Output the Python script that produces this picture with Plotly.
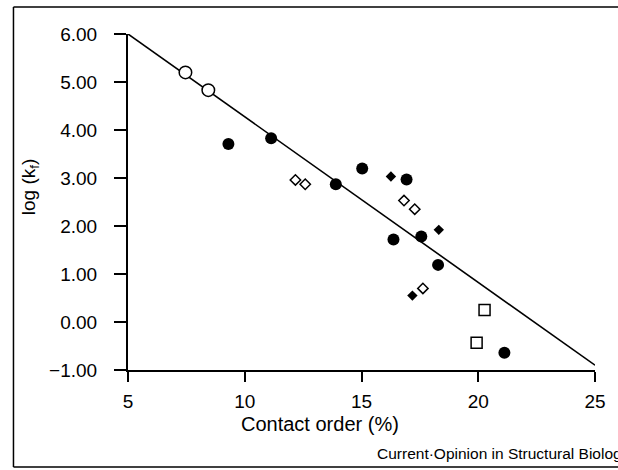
import plotly.graph_objects as go

# Data
open_circle_x = [7.46, 8.44]
open_circle_y = [5.20, 4.83]

filled_circle_x = [9.30, 11.13, 13.90, 15.03, 16.93, 16.37, 17.56, 18.28, 21.12]
filled_circle_y = [3.71, 3.83, 2.87, 3.20, 2.97, 1.72, 1.78, 1.19, -0.64]

open_diamond_x = [12.17, 12.59, 16.82, 17.28, 17.63]
open_diamond_y = [2.96, 2.87, 2.53, 2.35, 0.70]

filled_diamond_x = [16.26, 18.31, 17.18]
filled_diamond_y = [3.03, 1.92, 0.55]

open_square_x = [20.27, 19.93]
open_square_y = [0.25, -0.43]

fit_x = [5, 25]
fit_y = [6.0, -0.9]

x_ticks = [5, 10, 15, 20, 25]
y_ticks = [-1, 0, 1, 2, 3, 4, 5, 6]

FONT = "Liberation Sans, Arial, Helvetica, sans-serif"

fig = go.Figure()
fig.add_trace(go.Scatter(x=fit_x, y=fit_y, mode="lines",
                         line=dict(color="black", width=1.6), hoverinfo="skip"))
fig.add_trace(go.Scatter(x=open_circle_x, y=open_circle_y, mode="markers",
                         marker=dict(symbol="circle", size=12.5, color="white",
                                     line=dict(color="black", width=1.5))))
fig.add_trace(go.Scatter(x=filled_circle_x, y=filled_circle_y, mode="markers",
                         marker=dict(symbol="circle", size=12, color="black",
                                     line=dict(width=0))))
fig.add_trace(go.Scatter(x=open_diamond_x, y=open_diamond_y, mode="markers",
                         marker=dict(symbol="diamond", size=8, color="white",
                                     line=dict(color="black", width=1.5))))
fig.add_trace(go.Scatter(x=filled_diamond_x, y=filled_diamond_y, mode="markers",
                         marker=dict(symbol="diamond", size=8, color="black",
                                     line=dict(width=0))))
fig.add_trace(go.Scatter(x=open_square_x, y=open_square_y, mode="markers",
                         marker=dict(symbol="square", size=11, color="white",
                                     line=dict(color="black", width=1.5))))

L, R, T, B = 128, 17, 34, 100
W, H = 618, 470
pw, ph = W - L - R, H - T - B

def px(xp):
    return (xp - L) / pw

def py(yp):
    return 1 - (yp - T) / ph

frame = dict(color="black", width=1.5)

fig.update_layout(
    width=W, height=H,
    margin=dict(l=L, r=R, t=T, b=B),
    paper_bgcolor="white", plot_bgcolor="white",
    showlegend=False,
    font=dict(family=FONT, color="black", size=19),
    xaxis=dict(range=[5, 25], tickvals=x_ticks, showline=True, linecolor="black",
               linewidth=2, ticks="outside", ticklen=10, tickwidth=2, tickcolor="black",
               showgrid=False, zeroline=False, ticklabelstandoff=3,
               tickfont=dict(size=19, family=FONT)),
    yaxis=dict(range=[-1, 6], tickvals=y_ticks, tickformat=".2f", showline=True,
               linecolor="black", linewidth=2, ticks="outside", ticklen=12, tickwidth=2,
               tickcolor="black", showgrid=False, zeroline=False, ticklabelstandoff=13,
               tickfont=dict(size=19, family=FONT)),
    annotations=[
        dict(text="Contact order (%)", xref="paper", yref="paper",
             x=px(322), y=py(424), xanchor="center", yanchor="middle",
             showarrow=False, font=dict(size=20, family=FONT)),
        dict(text="log (k<sub>f</sub>)", xref="paper", yref="paper",
             x=px(29), y=py(187), xanchor="center", yanchor="middle",
             textangle=-90, showarrow=False, font=dict(size=19, family=FONT)),
        dict(text="Current\u00b7Opinion in Structural Biology", xref="paper", yref="paper",
             x=px(378), y=py(453), xanchor="left", yanchor="middle",
             showarrow=False, font=dict(size=15.5, family=FONT)),
    ],
    shapes=[
        dict(type="line", xref="paper", yref="paper",
             x0=px(12), x1=px(660), y0=py(7), y1=py(7), line=frame, layer="below"),
        dict(type="line", xref="paper", yref="paper",
             x0=px(12), x1=px(12), y0=py(7), y1=py(467), line=frame, layer="below"),
        dict(type="line", xref="paper", yref="paper",
             x0=px(12), x1=px(660), y0=py(467), y1=py(467), line=frame, layer="below"),
    ],
)

fig.write_html("out.html", config={"displayModeBar": False},
               post_script="document.body.style.margin='0';document.body.style.overflow='hidden';")
